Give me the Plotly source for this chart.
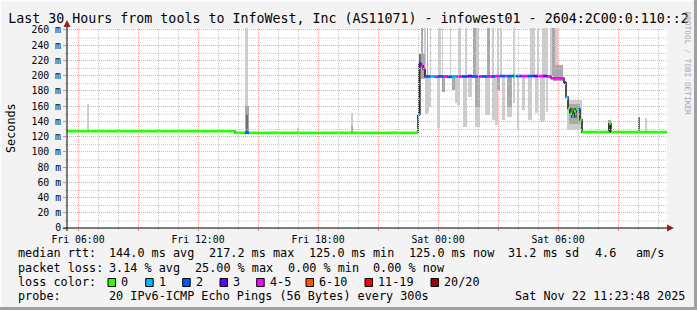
import plotly.graph_objects as go

# ---------------- data (x = hours since Fri 2025-11-21 00:00) ----------------
X_RANGE = [5.45, 35.45]
Y_RANGE = [0, 262.6]

x_tick_vals = [6, 9, 12, 15, 18, 21, 24, 27, 30, 33]
x_tick_text = ["Fri 06:00", "", "Fri 12:00", "", "Fri 18:00", "", "Sat 00:00", "", "Sat 06:00", ""]
y_tick_vals = [0, 20, 40, 60, 80, 100, 120, 140, 160, 180, 200, 220, 240, 260]
y_tick_text = ["0", "20 m", "40 m", "60 m", "80 m", "100 m", "120 m", "140 m", "160 m",
               "180 m", "200 m", "220 m", "240 m", "260 m"]

# median rtt (ms) per segment start, with number of lost pings (of 20)
med_start = [5.45, 13.85, 14.35, 14.55, 23.0, 23.05, 23.15, 23.25,
             23.35, 23.6, 23.85, 24.0, 24.25, 24.45, 24.7, 24.95, 25.2, 25.5, 25.7, 25.95,
             26.2, 26.45, 26.7, 26.85, 27.1, 27.35, 27.5, 27.8, 27.9, 28.2, 28.5, 28.75,
             29.0, 29.25, 29.45, 29.65,
             30.3, 30.4, 30.5, 30.6, 30.7, 30.8, 30.9, 31.0, 31.1, 31.2, 32.55, 32.65]
med_value = [127, 125, 125, 125, 148, 216, 213, 209,
             199, 199, 198.5, 199, 199, 198.5, 199, 199, 199, 199.5, 199, 199,
             199, 199, 199, 199.5, 199.5, 199.5, 199.5, 199.5, 199.5, 199.5, 199.5, 199.5,
             199.5, 199.5, 199, 196.5,
             191, 172, 157, 150, 147, 153, 156, 156, 142, 126, 137, 126]
med_loss = [0, 0, 2, 0, 1, 3, 4, 4,
            2, 1, 4, 2, 4, 2, 1, 4, 2, 3, 2, 4,
            2, 4, 2, 4, 2, 4, 2, 0, 2, 4, 2, 3,
            4, 3, 4, 4,
            3, 1, 0, 0, 1, 0, 0, 2, 0, 0, 0, 0]

# smoke: outer (light) ranges
light_t0 = [6.45, 14.35, 16.95, 19.65, 34.35,
            23.3, 23.6, 24.0, 24.2, 24.6, 25.0, 25.35, 25.9, 26.7, 26.95, 27.1, 27.75,
            28.6, 28.95, 29.2, 29.35, 29.6, 29.85,
            23.35, 23.45, 23.55, 23.95, 24.85, 24.95, 25.25, 25.5, 25.85, 26.35, 26.7,
            26.85, 27.2, 27.45, 27.75, 27.95, 28.2, 28.5, 28.85, 29.1, 29.4, 30.45]
light_t1 = [6.55, 14.5, 17.05, 19.75, 34.45,
            23.375, 23.65, 24.15, 24.25, 24.65, 25.15, 25.45, 26.025, 26.775, 27.05, 27.2, 27.85,
            28.85, 29.025, 29.35, 29.5, 29.7, 30.0,
            23.45, 23.55, 23.65, 24.1, 24.95, 25.1, 25.45, 25.7, 26.1, 26.6, 26.85,
            27.0, 27.35, 27.7, 27.85, 28.05, 28.35, 28.7, 29.0, 29.35, 29.5, 31.2]
light_lo = [126, 125, 125, 125, 126,
            199, 199, 199, 199, 199, 199, 199, 199, 199, 199, 199, 199,
            199, 199, 199, 199, 199, 199,
            150, 151, 159, 131, 164, 161, 133, 172, 133, 148, 142,
            135, 142, 146, 164, 129, 155, 142, 151, 140, 152, 129]
light_hi = [163, 262, 131, 151, 145,
            262, 262, 262, 262, 262, 262, 262, 262, 262, 262, 262, 262,
            262, 262, 262, 262, 262, 262,
            199, 199, 199, 199, 199, 199, 199, 199, 199, 199, 199,
            199, 199, 199, 199, 199, 199, 199, 199, 199, 199, 168]

# smoke: middle ranges
mid_t0 = [14.325, 19.65, 23.125, 23.45, 25.75, 26.45, 29.7,
          24.2, 24.7, 25.85, 26.95, 27.45, 23.15, 29.75, 30.55, 32.5]
mid_t1 = [14.55, 19.75, 23.25, 23.5, 25.9, 26.6, 29.85,
          24.35, 24.85, 26.1, 27.1, 27.7, 23.35, 30.25, 31.1, 32.65]
mid_lo = [125, 125, 199, 199, 199, 199, 199,
          179, 181, 159, 181, 159, 195, 193, 136, 126]
mid_hi = [160, 134, 262, 262, 262, 262, 262,
          199, 199, 199, 199, 199, 228, 214, 163, 142]

# smoke: inner (dark) ranges
dark_t0 = [14.375, 23.025, 30.65, 32.55, 34.0]
dark_t1 = [14.5, 23.15, 30.95, 32.65, 34.1]
dark_lo = [125, 148, 145, 126, 126]
dark_hi = [150, 228, 157, 138, 146]

loss_labels = ["0", "1", "2", "3", "4-5", "6-10", "11-19", "20/20"]
loss_colors = ["#26ff00", "#00b8ff", "#0059ff", "#5e00ff", "#ff00ff", "#ff5500", "#ff0000", "#a00000"]
loss_upper = [0, 1, 2, 3, 5, 10, 19, 20]

legend_median = ["144.0 ms avg", "217.2 ms max", "125.0 ms min", "125.0 ms now", "31.2 ms sd", "4.6", "am/s"]
legend_loss = ["3.14 % avg", "25.00 % max", "0.00 % min", "0.00 % now"]
probe_text = "20 IPv6-ICMP Echo Pings (56 Bytes) every 300s"
date_text = "Sat Nov 22 11:23:48 2025"
title_text = "Last 30 Hours from tools to InfoWest, Inc (AS11071) - infowest01 - 2604:2C00:0:110::2"

assert len(med_start) == len(med_value) == len(med_loss)

# ---------------- figure ----------------
W, H = 697, 310
L, T, PW, PH = 67, 28, 600, 200
MONO = "DejaVu Sans Mono"


def px(x):
    return (x - L) / PW


def py(y):
    return (T + PH - y) / PH


fig = go.Figure()


def add_smoke(t0, t1, lo, hi, color):
    fig.add_trace(go.Bar(
        x=[(a + b) / 2 for a, b in zip(t0, t1)],
        width=[b - a for a, b in zip(t0, t1)],
        base=lo,
        y=[h - l for l, h in zip(lo, hi)],
        marker=dict(color=color, line=dict(width=0)),
        showlegend=False, hoverinfo="skip"))


add_smoke(light_t0, light_t1, light_lo, light_hi, "#cdcdcd")
add_smoke(mid_t0, mid_t1, mid_lo, mid_hi, "#a9a9a9")
add_smoke(dark_t0, dark_t1, dark_lo, dark_hi, "#6e6e6e")

# connector (dark step line)
ends = med_start[1:] + [X_RANGE[1]]
fig.add_trace(go.Scatter(
    x=med_start + [X_RANGE[1]], y=med_value + [med_value[-1]],
    mode="lines", line=dict(color="#1a1a1a", width=1.5, shape="hv"),
    showlegend=False, hoverinfo="skip"))


def cat_of(loss):
    for i, u in enumerate(loss_upper):
        if loss <= u:
            return i
    return len(loss_upper) - 1


for ci, col in enumerate(loss_colors):
    xs, ys = [], []
    for s, e, v, lo in zip(med_start, ends, med_value, med_loss):
        if cat_of(lo) == ci:
            xs += [s, e, None]
            ys += [v, v, None]
    if xs:
        fig.add_trace(go.Scatter(x=xs, y=ys, mode="lines",
                                 line=dict(color=col, width=2.7),
                                 showlegend=False, hoverinfo="skip"))

shapes = []
ann = []

GRID_MAJ = "#f6a3a3"
GRID_MIN = "#c8c8c8"

# minor grid (every hour / every 10 ms), drawn on the axis scales, half-pixel aligned
HX = (X_RANGE[1] - X_RANGE[0]) / PW * 0.5
HY = (Y_RANGE[1] - Y_RANGE[0]) / PH * 0.5
for h in range(6, 36):
    if h % 3:
        shapes.append(dict(type="line", xref="x", yref="paper", x0=h + HX, x1=h + HX, y0=0, y1=1,
                           layer="above", line=dict(color=GRID_MIN, width=1, dash="1px,1px")))
        shapes.append(dict(type="line", xref="x", yref="paper", x0=h + HX, x1=h + HX, y0=py(230), y1=0,
                           layer="above", line=dict(color=GRID_MIN, width=1)))
for v in range(10, 261, 10):
    if v % 20:
        shapes.append(dict(type="line", xref="paper", yref="y", x0=0, x1=1, y0=v - HY, y1=v - HY,
                           layer="above", line=dict(color=GRID_MIN, width=1, dash="1px,1px")))
        shapes.append(dict(type="line", xref="paper", yref="y", x0=px(65), x1=0, y0=v - HY, y1=v - HY,
                           layer="above", line=dict(color=GRID_MIN, width=1)))

# axis lines and arrows
shapes.append(dict(type="line", xref="paper", yref="paper", x0=0, x1=0, y0=py(231), y1=py(24),
                   line=dict(color="#000000", width=1)))
shapes.append(dict(type="line", xref="paper", yref="paper", x0=px(63), x1=px(670), y0=0, y1=0,
                   line=dict(color="#000000", width=1)))
shapes.append(dict(type="path", xref="paper", yref="paper",
                   path=f"M {px(67)} {py(20)} L {px(63.5)} {py(27)} L {px(70.5)} {py(27)} Z",
                   fillcolor="#9b1c1c", line=dict(width=0)))
shapes.append(dict(type="path", xref="paper", yref="paper",
                   path=f"M {px(674)} {py(228)} L {px(667)} {py(224.5)} L {px(667)} {py(231.5)} Z",
                   fillcolor="#9b1c1c", line=dict(width=0)))

# 3D frame
shapes.append(dict(type="line", xref="paper", yref="paper", x0=px(0), x1=px(697), y0=py(0.5), y1=py(0.5),
                   line=dict(color="#fcfcfc", width=2)))
shapes.append(dict(type="line", xref="paper", yref="paper", x0=px(0.5), x1=px(0.5), y0=py(0), y1=py(310),
                   line=dict(color="#fcfcfc", width=2)))
shapes.append(dict(type="line", xref="paper", yref="paper", x0=px(0), x1=px(697), y0=py(308.5), y1=py(308.5),
                   line=dict(color="#a0a0a0", width=3)))
shapes.append(dict(type="line", xref="paper", yref="paper", x0=px(695.5), x1=px(695.5), y0=py(0), y1=py(310),
                   line=dict(color="#a0a0a0", width=3)))

FS = 11.8


def text(x, y, s, size=FS, color="#000000", anchor="left", angle=0):
    ann.append(dict(xref="paper", yref="paper", x=px(x), y=py(y), text=s, showarrow=False,
                    xanchor=anchor, yanchor="middle", textangle=angle,
                    font=dict(family=MONO, size=size, color=color)))


# legend rows
text(16, 253, "median rtt:")
for xp, s in zip([107, 207, 307, 406.5, 506, 593, 634], legend_median):
    text(xp, 253, s)
text(16, 267.5, "packet loss:")
for xp, s in zip([107, 193, 286, 371], legend_loss):
    text(xp, 267.5, s)
text(16, 282, "loss color:")
box_x = [108, 145.7, 182.7, 220, 256.7, 306, 365, 431]
for bx, lab, col in zip(box_x, loss_labels, loss_colors):
    shapes.append(dict(type="rect", xref="paper", yref="paper", x0=px(bx), x1=px(bx + 7.5),
                       y0=py(286.5), y1=py(278.5), fillcolor=col, line=dict(color="#000000", width=1)))
    text(bx + 11, 282, lab)
text(16, 296, "probe:")
text(107, 296, probe_text)
text(513, 296, date_text)

# y axis title
text(11, 128, "Seconds", anchor="center", angle=-90)
# watermark
ann.append(dict(xref="paper", yref="paper", x=px(687.5), y=py(63), text="RRDTOOL / TOBI OETIKER",
                showarrow=False, textangle=90, xanchor="center", yanchor="middle",
                font=dict(family=MONO, size=7.8, color="#a8a8a8")))

TICKFONT = dict(family=MONO, size=9.8, color="#000000")
common = dict(zeroline=False, showline=False, layer="above traces", fixedrange=True)

fig.update_layout(
    width=W, height=H,
    margin=dict(l=L, r=W - L - PW, t=T, b=H - T - PH, pad=0),
    paper_bgcolor="#f3f3f3", plot_bgcolor="#ffffff",
    barmode="overlay", bargap=0,
    title=dict(text=title_text, x=0.5, xref="container", xanchor="center",
               y=1 - 18 / H, yanchor="middle", font=dict(family=MONO, size=13.3, color="#000000")),
    shapes=shapes, annotations=ann,
    showlegend=False,
    xaxis=dict(range=X_RANGE, tickmode="array", tickvals=x_tick_vals, ticktext=x_tick_text,
               showgrid=True, gridcolor=GRID_MAJ, griddash="1px,1px", gridwidth=1,
               ticks="outside", ticklen=2, tickcolor="#f08080", tickfont=TICKFONT, **common),
    yaxis=dict(range=Y_RANGE, tickmode="array", tickvals=y_tick_vals, ticktext=y_tick_text,
               showgrid=True, gridcolor=GRID_MAJ, griddash="1px,1px", gridwidth=1,
               ticks="outside", ticklen=3, tickcolor="#f08080", tickfont=TICKFONT, **common),
)

fig.write_html("out.html")
